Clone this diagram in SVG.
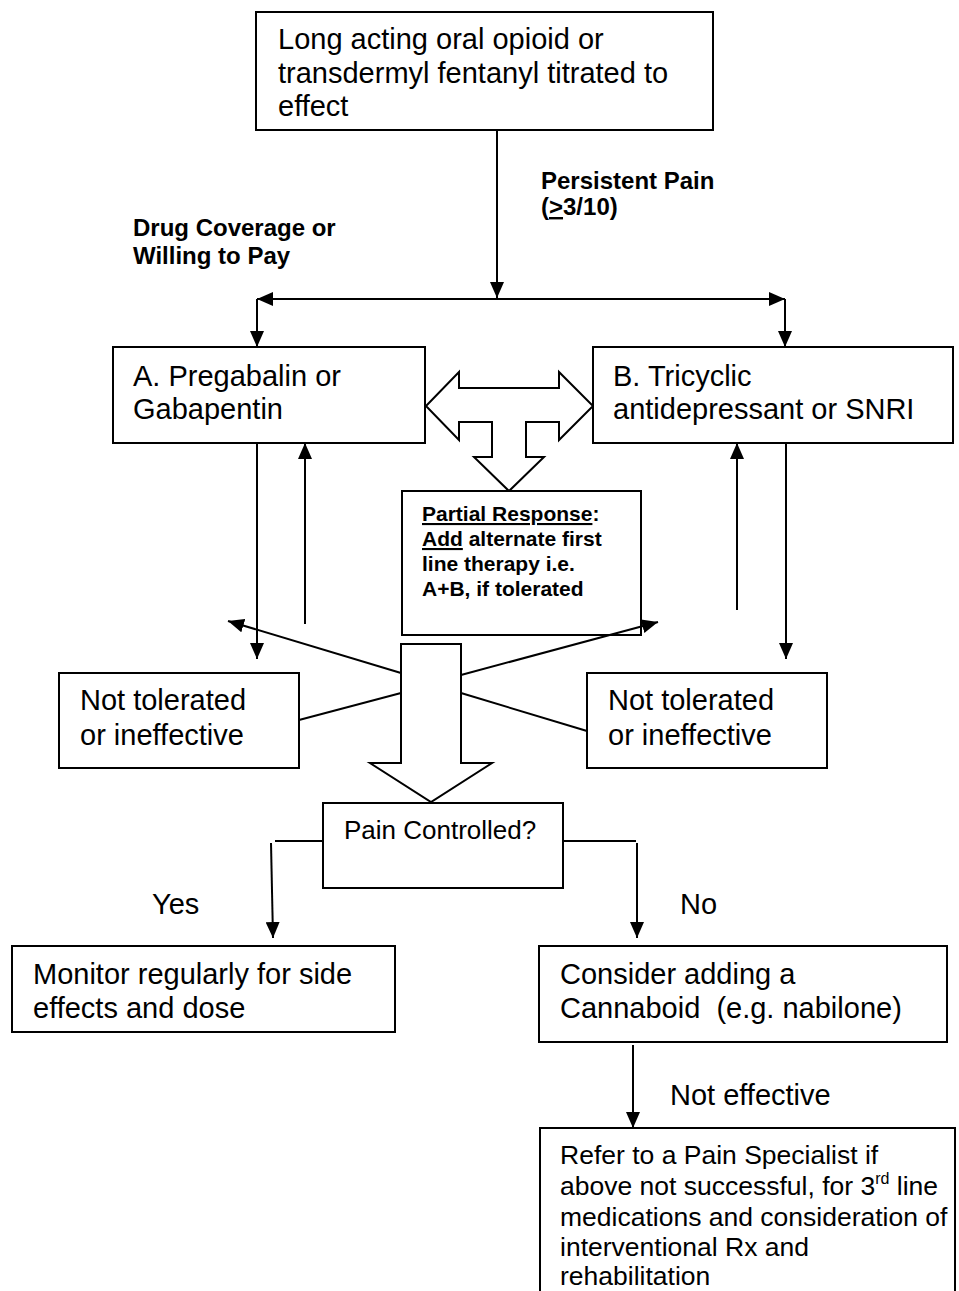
<svg xmlns="http://www.w3.org/2000/svg" width="959" height="1291" viewBox="0 0 959 1291">
  <style>
    .box { fill: #ffffff; stroke: #000000; stroke-width: 2; }
    .blk { fill: #ffffff; stroke: #000000; stroke-width: 2; stroke-linejoin: miter; }
    .ln { fill: none; stroke: #000000; stroke-width: 2; }
    .arr { fill: none; stroke: #000000; stroke-width: 2; marker-end: url(#head); }
    text { font-family: "Liberation Sans", Arial, sans-serif; fill: #000000; }
    .t29 { font-size: 29px; }
    .t26 { font-size: 26px; }
    .t265 { font-size: 26.5px; }
    .b24 { font-size: 24px; font-weight: bold; }
    .b21 { font-size: 21px; font-weight: bold; }
    .u { text-decoration: underline; }
  </style>
  <defs>
    <marker id="head" markerUnits="userSpaceOnUse" markerWidth="16" markerHeight="14" refX="16" refY="7" orient="auto">
      <path d="M0,0 L16,7 L0,14 z" fill="#000000"/>
    </marker>
  </defs>

  <rect width="959" height="1291" fill="#ffffff"/>

  <!-- block arrows -->
  <g id="swap-arrow">
    <polygon class="blk" points="426,406 459,372 459,388 559,388 559,372 593,406 559,440 559,422 526,422 526,457 544,457 509,491 474,457 492,457 492,422 459,422 459,440"/>
  </g>
  <g id="combine-arrow">
    <polygon class="blk" points="401,644 461,644 461,763 492,763 431,802 370,763 401,763"/>
  </g>

  <!-- edge labels -->
  <g id="label-persistent">
    <text class="b24" x="541" y="189">Persistent Pain</text>
    <text class="b24" x="541" y="215">(<tspan class="u">&gt;</tspan>3/10)</text>
  </g>
  <g id="label-coverage">
    <text class="b24" x="133" y="236">Drug Coverage or</text>
    <text class="b24" x="133" y="264">Willing to Pay</text>
  </g>
  <g id="label-yes"><text class="t29" x="152" y="914">Yes</text></g>
  <g id="label-no"><text class="t29" x="680" y="914">No</text></g>
  <g id="label-not-effective"><text class="t29" x="670" y="1105">Not effective</text></g>

  <!-- nodes -->
  <g id="opioid">
    <rect class="box" x="256" y="12" width="457" height="118"/>
    <text class="t29" x="278" y="49">Long acting oral opioid or</text>
    <text class="t29" x="278" y="83">transdermyl fentanyl titrated to</text>
    <text class="t29" x="278" y="116">effect</text>
  </g>

  <g id="pregabalin">
    <rect class="box" x="113" y="347" width="312" height="96"/>
    <text class="t29" x="133" y="386">A. Pregabalin or</text>
    <text class="t29" x="133" y="419">Gabapentin</text>
  </g>

  <g id="tricyclic">
    <rect class="box" x="593" y="347" width="360" height="96"/>
    <text class="t29" x="613" y="386">B. Tricyclic</text>
    <text class="t29" x="613" y="419">antidepressant or SNRI</text>
  </g>

  <g id="partial-response">
    <rect class="box" x="402" y="491" width="239" height="144"/>
    <text class="b21" x="422" y="521"><tspan class="u">Partial Response</tspan>:</text>
    <text class="b21" x="422" y="546"><tspan class="u">Add</tspan> alternate first</text>
    <text class="b21" x="422" y="571">line therapy i.e.</text>
    <text class="b21" x="422" y="596">A+B, if tolerated</text>
  </g>

  <g id="fail-a">
    <rect class="box" x="59" y="673" width="240" height="95"/>
    <text class="t29" x="80" y="710">Not tolerated</text>
    <text class="t29" x="80" y="745">or ineffective</text>
  </g>

  <g id="fail-b">
    <rect class="box" x="587" y="673" width="240" height="95"/>
    <text class="t29" x="608" y="710">Not tolerated</text>
    <text class="t29" x="608" y="745">or ineffective</text>
  </g>

  <g id="pain-controlled">
    <rect class="box" x="323" y="803" width="240" height="85"/>
    <text class="t26" x="344" y="839">Pain Controlled?</text>
  </g>

  <g id="monitor">
    <rect class="box" x="12" y="946" width="383" height="86"/>
    <text class="t29" x="33" y="984">Monitor regularly for side</text>
    <text class="t29" x="33" y="1018">effects and dose</text>
  </g>

  <g id="cannabinoid">
    <rect class="box" x="539" y="946" width="408" height="96"/>
    <text class="t29" x="560" y="984">Consider adding a</text>
    <text class="t29" x="560" y="1018" xml:space="preserve">Cannaboid  (e.g. nabilone)</text>
  </g>

  <g id="specialist">
    <path class="ln" d="M540,1300 L540,1128 L955,1128 L955,1300"/>
    <text class="t265" x="560" y="1164">Refer to a Pain Specialist if</text>
    <text class="t265" x="560" y="1195">above not successful, for 3<tspan font-size="16" dy="-11">rd</tspan><tspan dy="11"> line</tspan></text>
    <text class="t265" x="560" y="1226">medications and consideration of</text>
    <text class="t265" x="560" y="1256">interventional Rx and</text>
    <text class="t265" x="560" y="1285">rehabilitation</text>
  </g>

  <!-- connectors (drawn last so crossings show over boxes) -->
  <g id="connectors">
    <!-- opioid step down to the split -->
    <line class="arr" x1="497" y1="130" x2="497" y2="298"/>
    <!-- split bar with outward heads -->
    <line class="arr" x1="497" y1="299" x2="257" y2="299"/>
    <line class="arr" x1="497" y1="299" x2="785" y2="299"/>
    <line class="arr" x1="257" y1="299" x2="257" y2="347"/>
    <line class="arr" x1="785" y1="299" x2="785" y2="347"/>
    <!-- A: down to failure, back up -->
    <line class="arr" x1="257" y1="443" x2="257" y2="659"/>
    <line class="arr" x1="305" y1="624" x2="305" y2="443"/>
    <!-- B: back up, down to failure -->
    <line class="arr" x1="737" y1="610" x2="737" y2="443"/>
    <line class="arr" x1="786" y1="443" x2="786" y2="659"/>
    <!-- crossover from the big arrow -->
    <line class="arr" x1="401" y1="673" x2="228" y2="621"/>
    <line class="arr" x1="461" y1="675" x2="658" y2="622"/>
    <line class="ln" x1="299" y1="720" x2="401" y2="693"/>
    <line class="ln" x1="461" y1="693" x2="587" y2="731"/>
    <!-- Yes / No branches -->
    <line class="ln" x1="275" y1="841" x2="323" y2="841"/>
    <line class="arr" x1="271" y1="843" x2="273" y2="938"/>
    <line class="ln" x1="563" y1="841" x2="636" y2="841"/>
    <line class="arr" x1="637" y1="843" x2="637" y2="938"/>
    <!-- cannabinoid not effective -->
    <line class="arr" x1="633" y1="1045" x2="633" y2="1128"/>
  </g>
</svg>
